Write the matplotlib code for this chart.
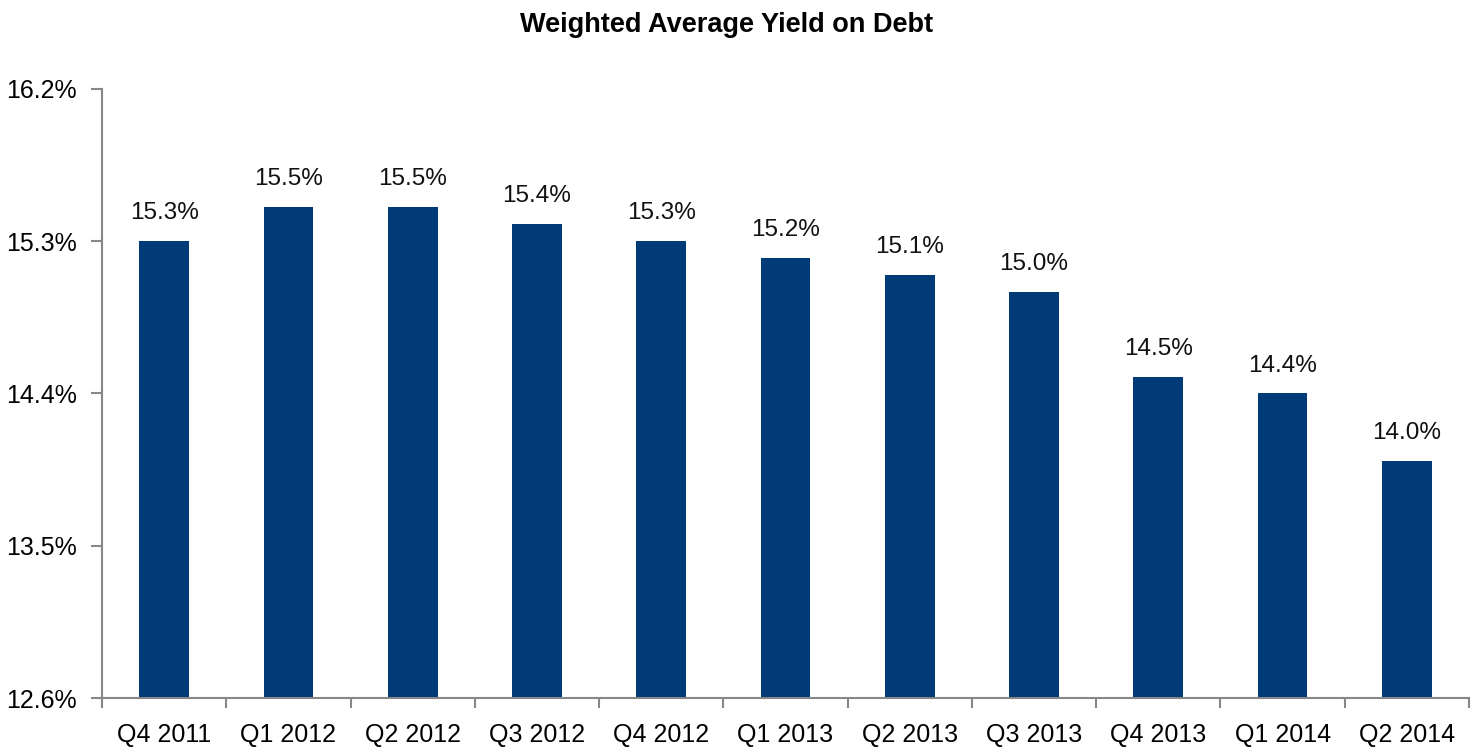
import matplotlib
matplotlib.use("Agg")
import matplotlib.pyplot as plt
import numpy as np

quarters = ["Q4 2011", "Q1 2012", "Q2 2012", "Q3 2012", "Q4 2012", "Q1 2013",
            "Q2 2013", "Q3 2013", "Q4 2013", "Q1 2014", "Q2 2014"]
yields = [15.3, 15.5, 15.5, 15.4, 15.3, 15.2, 15.1, 15.0, 14.5, 14.4, 14.0]
y_ticks = [12.6, 13.5, 14.4, 15.3, 16.2]

plt.rcParams['font.family'] = ['Liberation Sans', 'DejaVu Sans']

bar_color = "#003B77"
axis_color = "#878787"

fig = plt.figure(figsize=(14.74, 7.47), dpi=100)
ax = fig.add_axes([102 / 1474, 49 / 747, 1367 / 1474, 609 / 747])

x = np.arange(len(quarters))
ax.bar(x, yields, width=0.40, color=bar_color, zorder=2)

# value labels above each bar
for xi, v in zip(x, yields):
    ax.text(xi, v + 0.1, f"{v:.1f}%", ha="center", va="bottom", fontsize=17.5, color="#111111")

ax.set_xlim(-0.5, len(quarters) - 0.5)
ax.set_ylim(y_ticks[0], y_ticks[-1])
ax.set_yticks(y_ticks)
ax.set_yticklabels([f"{t:.1f}%" for t in y_ticks], fontsize=18)

# category labels centred, tick marks between categories
ax.set_xticks(x)
ax.set_xticklabels(quarters, fontsize=18)
ax.set_xticks(np.arange(len(quarters) + 1) - 0.5, minor=True)
ax.tick_params(axis="x", which="major", length=0, pad=18)
ax.tick_params(axis="x", which="minor", length=7, width=1.5, color=axis_color, direction="out")
ax.tick_params(axis="y", length=8, width=1.5, color=axis_color, direction="out", pad=10)

for side in ["top", "right"]:
    ax.spines[side].set_visible(False)
for side in ["left", "bottom"]:
    ax.spines[side].set_color(axis_color)
    ax.spines[side].set_linewidth(1.5)

fig.text(0.493, 0.966, "Weighted Average Yield on Debt", ha="center", va="center",
         fontsize=19.5, fontweight="bold")

fig.savefig("out.png", dpi=100)
